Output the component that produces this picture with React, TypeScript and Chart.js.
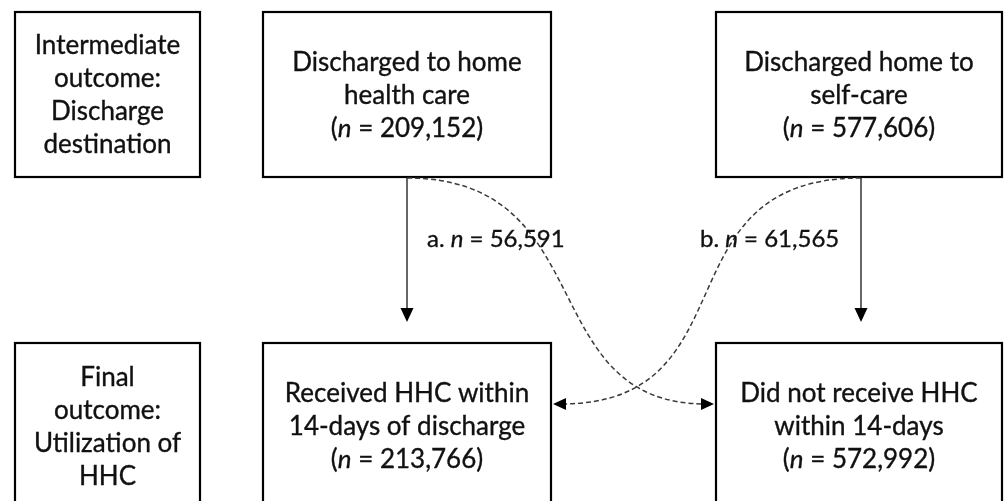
import React, { useEffect, useRef } from "react";
import { Chart, registerables } from "chart.js";

Chart.register(...registerables);

// ---- content (data) ----
const stageLabels: string[][] = [
  ["Intermediate", "outcome:", "Discharge", "destination"],
  ["Final", "outcome:", "Utilization of", "HHC"],
];
const dischargeLabels: string[][] = [
  ["Discharged to home", "health care"],
  ["Discharged home to", "self-care"],
];
const dischargeCounts: number[] = [209152, 577606];
const outcomeLabels: string[][] = [
  ["Received HHC within", "14-days of discharge"],
  ["Did not receive HHC", "within 14-days"],
];
const outcomeCounts: number[] = [213766, 572992];
const crossoverTags: string[] = ["a.", "b."];
const crossoverCounts: number[] = [56591, 61565];

// ---- layout (diagram units = scale values) ----
const COLS: [number, number][] = [[15, 200], [263, 551], [716, 1002]];
const ROWS: [number, number][] = [[12, 177], [343, 509]];
const FLOW_X = [407, 861];
const FLOW_END_Y = 322;
const CROSS_END_Y = 404;
const CROSS_CTRL: [number, number][] = [[602, 533], [657, 754]];
const LABEL_POS: [number, number][] = [[427, 247], [700, 247]];

const FONT = "Lato";
const BOX_FONT = 26;
const LABEL_FONT = 24;
const LINE_H = 33;

type Seg = { t: string; i?: boolean };

function fmt(n: number) {
  return n.toLocaleString("en-US");
}

function drawRich(ctx: CanvasRenderingContext2D, segs: Seg[], x: number, y: number, align: "center" | "left", size: number) {
  ctx.textAlign = "left";
  ctx.textBaseline = "alphabetic";
  const widths = segs.map((s) => {
    ctx.font = `${s.i ? "italic " : ""}${size}px ${FONT}`;
    return ctx.measureText(s.t).width;
  });
  const total = widths.reduce((a, b) => a + b, 0);
  let cx = align === "center" ? x - total / 2 : x;
  segs.forEach((s, k) => {
    ctx.font = `${s.i ? "italic " : ""}${size}px ${FONT}`;
    ctx.fillText(s.t, cx, y);
    ctx.lineWidth = 0.35;
    ctx.strokeStyle = "#111";
    ctx.strokeText(s.t, cx, y);
    cx += widths[k];
  });
}

function arrowHead(ctx: CanvasRenderingContext2D, tx: number, ty: number, ang: number, len: number, wid: number) {
  ctx.save();
  ctx.translate(tx, ty);
  ctx.rotate(ang);
  ctx.beginPath();
  ctx.moveTo(0, 0);
  ctx.lineTo(-len, -wid / 2);
  ctx.lineTo(-len, wid / 2);
  ctx.closePath();
  ctx.fillStyle = "#000";
  ctx.fill();
  ctx.restore();
}

const flowPlugin = {
  id: "flow",
  afterDraw(chart: any) {
    const ctx: CanvasRenderingContext2D = chart.ctx;
    const xs = chart.scales.x;
    const ys = chart.scales.y;
    const X = (v: number) => xs.getPixelForValue(v);
    const Y = (v: number) => ys.getPixelForValue(v);

    ctx.save();
    // boxes
    const box = (c: number, r: number, lines: Seg[][]) => {
      const [x0, x1] = COLS[c];
      const [y0, y1] = ROWS[r];
      ctx.lineWidth = 2.2;
      ctx.strokeStyle = "#000";
      ctx.setLineDash([]);
      ctx.strokeRect(X(x0), Y(y0), X(x1) - X(x0), Y(y1) - Y(y0));
      ctx.fillStyle = "#111";
      const cx = (X(x0) + X(x1)) / 2;
      const cy = (Y(y0) + Y(y1)) / 2;
      const n = lines.length;
      lines.forEach((segs, i) => {
        const by = cy + (i - (n - 1) / 2) * LINE_H + 9;
        drawRich(ctx, segs, cx, by, "center", BOX_FONT);
      });
    };
    stageLabels.forEach((ls, r) => box(0, r, ls.map((t) => [{ t }])));
    dischargeLabels.forEach((ls, k) =>
      box(k + 1, 0, [...ls.map((t) => [{ t }]), [{ t: "(" }, { t: "n", i: true }, { t: ` = ${fmt(dischargeCounts[k])})` }]])
    );
    outcomeLabels.forEach((ls, k) =>
      box(k + 1, 1, [...ls.map((t) => [{ t }]), [{ t: "(" }, { t: "n", i: true }, { t: ` = ${fmt(outcomeCounts[k])})` }]])
    );

    // solid arrows
    FLOW_X.forEach((fx) => {
      ctx.beginPath();
      ctx.setLineDash([]);
      ctx.lineWidth = 1.2;
      ctx.strokeStyle = "#000";
      ctx.moveTo(X(fx), Y(ROWS[0][1]));
      ctx.lineTo(X(fx), Y(FLOW_END_Y) - 10);
      ctx.stroke();
      arrowHead(ctx, X(fx), Y(FLOW_END_Y), Math.PI / 2, 14, 13);
    });

    // dashed crossover curves
    const curves = [
      { s: [FLOW_X[0], ROWS[0][1] + 1], e: [COLS[2][0] - 2, CROSS_END_Y], c: CROSS_CTRL[0], dir: 1 },
      { s: [FLOW_X[1], ROWS[0][1] + 1], e: [COLS[1][1] + 2, CROSS_END_Y], c: CROSS_CTRL[1], dir: -1 },
    ];
    curves.forEach((cv) => {
      ctx.beginPath();
      ctx.setLineDash([5, 3]);
      ctx.lineWidth = 1.5;
      ctx.strokeStyle = "#3a3a3a";
      ctx.moveTo(X(cv.s[0]), Y(cv.s[1]));
      ctx.bezierCurveTo(X(cv.c[0]), Y(cv.s[1]), X(cv.c[1]), Y(cv.e[1]), X(cv.e[0]) - cv.dir * 8, Y(cv.e[1]));
      ctx.stroke();
      ctx.setLineDash([]);
      arrowHead(ctx, X(cv.e[0]), Y(cv.e[1]), cv.dir > 0 ? 0 : Math.PI, 13, 12);
    });

    // crossover labels
    ctx.fillStyle = "#111";
    crossoverTags.forEach((tag, k) => {
      drawRich(ctx, [{ t: `${tag} ` }, { t: "n", i: true }, { t: ` = ${fmt(crossoverCounts[k])}` }], X(LABEL_POS[k][0]), Y(LABEL_POS[k][1]), "left", LABEL_FONT);
    });
    ctx.restore();
  },
};

export default function App() {
  const ref = useRef<HTMLCanvasElement | null>(null);
  useEffect(() => {
    if (!ref.current) return;
    const chart = new Chart(ref.current, {
      type: "scatter",
      data: { datasets: [{ data: [], pointRadius: 0 }] },
      options: {
        animation: false,
        responsive: false,
        events: [],
        layout: { padding: 0 },
        plugins: { legend: { display: false }, tooltip: { enabled: false } },
        scales: {
          x: { type: "linear", min: 0, max: 1005, display: false },
          y: { type: "linear", min: 0, max: 501, reverse: true, display: false },
        },
      },
      plugins: [flowPlugin],
    } as any);
    return () => chart.destroy();
  }, []);
  return (
    <div style={{ position: "fixed", left: 0, top: 0, width: 1005, height: 501, background: "#fff" }}>
      <canvas ref={ref} width={1005} height={501} style={{ width: 1005, height: 501, display: "block" }} />
    </div>
  );
}
